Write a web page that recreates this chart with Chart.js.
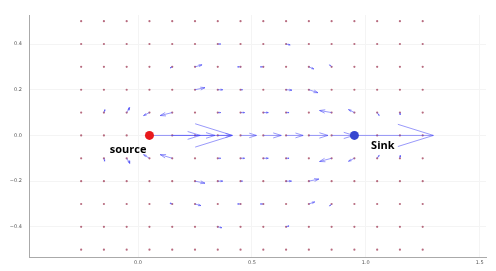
<!DOCTYPE html>
<html>
<head>
<meta charset="utf-8">
<script src="https://cdn.jsdelivr.net/npm/chart.js@4"></script>
<style>
  html, body { margin: 0; padding: 0; background: #fff; }
  #wrap { width: 496px; height: 271px; }
</style>
</head>
<body>
<div id="wrap"><canvas id="chart"></canvas></div>
<script>
// grid of sample points
var gridX = [-0.25, -0.15, -0.05, 0.05, 0.15, 0.25, 0.35, 0.45, 0.55, 0.65, 0.75, 0.85, 0.95, 1.05, 1.15, 1.25];
var gridY = [0.5, 0.4, 0.3, 0.2, 0.1, 0.0, -0.1, -0.2, -0.3, -0.4, -0.5];

// non-zero field vectors (tail x, tail y, u, v)
var quiverX = [
  0.35, 0.65,                                                     // y = 0.4
  0.15, 0.25, 0.45, 0.55, 0.75, 0.85,                             // y = 0.3
  0.25, 0.35, 0.45, 0.65, 0.75,                                   // y = 0.2
  -0.15, -0.05, 0.05, 0.15, 0.35, 0.45, 0.55, 0.65, 0.85, 0.95, 1.05, 1.15, // y = 0.1
  0.05, 0.15, 0.25, 0.35, 0.45, 0.55, 0.65, 0.75, 0.85, 0.95,     // y = 0
  -0.15, -0.05, 0.05, 0.15, 0.35, 0.45, 0.55, 0.65, 0.85, 0.95, 1.05, 1.15, // y = -0.1
  0.25, 0.35, 0.45, 0.65, 0.75,                                   // y = -0.2
  0.15, 0.25, 0.45, 0.55, 0.75, 0.85,                             // y = -0.3
  0.35, 0.65                                                      // y = -0.4
];
var quiverY = [
  0.4, 0.4,
  0.3, 0.3, 0.3, 0.3, 0.3, 0.3,
  0.2, 0.2, 0.2, 0.2, 0.2,
  0.1, 0.1, 0.1, 0.1, 0.1, 0.1, 0.1, 0.1, 0.1, 0.1, 0.1, 0.1,
  0, 0, 0, 0, 0, 0, 0, 0, 0, 0,
  -0.1, -0.1, -0.1, -0.1, -0.1, -0.1, -0.1, -0.1, -0.1, -0.1, -0.1, -0.1,
  -0.2, -0.2, -0.2, -0.2, -0.2,
  -0.3, -0.3, -0.3, -0.3, -0.3, -0.3,
  -0.4, -0.4
];
var quiverU = [
  0.013, 0.018,
  -0.009, 0.031, -0.013, -0.013, 0.022, -0.009,
  0.044, 0.022, 0.009, 0.026, 0.040,
  0.004, 0.013, -0.026, -0.053, 0.013, 0.018, 0.022, 0.013, -0.053, -0.026, 0.009, 0.001,
  0.365, 0.123, 0.088, 0.062, 0.070, 0.079, 0.075, 0.084, 0.097, 0.347,
  0.004, 0.013, -0.026, -0.053, 0.013, 0.018, 0.022, 0.013, -0.053, -0.026, 0.009, 0.001,
  0.044, 0.022, 0.009, 0.024, 0.044,
  -0.009, 0.026, -0.013, -0.013, 0.026, -0.009,
  0.018, 0.013
];
var quiverV = [
  0, -0.004,
  -0.004, 0.009, 0, 0, -0.009, 0.009,
  0.009, 0, 0, -0.002, -0.013,
  0.013, 0.022, -0.013, -0.013, 0, 0, 0, 0, 0.009, 0.013, -0.013, -0.009,
  0, 0, 0, 0, 0, 0, 0, 0, 0, 0,
  -0.013, -0.022, 0.016, 0.016, 0, 0, 0, 0, -0.014, -0.013, 0.013, 0.012,
  -0.009, 0, 0, 0, 0.009,
  0.004, -0.007, 0, 0, 0.009, -0.009,
  -0.004, 0.004
];

// source and sink
var sourceX = [0.05], sourceY = [0.0];
var sinkX = [0.95], sinkY = [0.0];

// annotations
var noteText = ['source', 'Sink'];
var noteX = [-0.044, 1.075];
var noteY = [-0.061, -0.046];

// axis ticks
var xTicks = [0.0, 0.5, 1.0, 1.5];
var xTickLabels = ['0.0', '0.5', '1.0', '1.5'];
var yTicks = [-0.4, -0.2, 0.0, 0.2, 0.4];
var yTickLabels = ['\u22120.4', '\u22120.2', '0.0', '0.2', '0.4'];

var GAP = { x: NaN, y: NaN };

// shaft + head segments for every vector, head scales with length
var arrowPoints = [];
for (var k = 0; k < quiverX.length; k++) {
  var x0 = quiverX[k], y0 = quiverY[k], u = quiverU[k], v = quiverV[k];
  var len = Math.sqrt(u * u + v * v);
  if (!len) continue;
  var x1 = x0 + u, y1 = y0 + v;
  var ux = u / len, uy = v / len;
  var hl = 0.45 * len, hw = 0.14 * len;
  var bx = x1 - ux * hl, by = y1 - uy * hl;
  arrowPoints.push({ x: x0, y: y0 }, { x: x1, y: y1 }, GAP,
    { x: bx - uy * hw, y: by + ux * hw }, { x: x1, y: y1 }, { x: bx + uy * hw, y: by - ux * hw }, GAP);
}

var gridPoints = [];
gridY.forEach(function (y) {
  gridX.forEach(function (x) { gridPoints.push({ x: x, y: y }); });
});

function pts(xs, ys) {
  return xs.map(function (x, i) { return { x: x, y: ys[i] }; });
}

var notesPlugin = {
  id: 'notes',
  afterDatasetsDraw: function (chart) {
    var ctx = chart.ctx, sx = chart.scales.x, sy = chart.scales.y;
    ctx.save();
    ctx.font = 'bold 11px "Open Sans"';
    ctx.fillStyle = '#000';
    ctx.textAlign = 'center';
    ctx.textBaseline = 'middle';
    noteText.forEach(function (t, i) {
      ctx.fillText(t, sx.getPixelForValue(noteX[i]), sy.getPixelForValue(noteY[i]));
    });
    ctx.restore();
  }
};

var tickFont = { family: 'DejaVu Sans', size: 5 };

new Chart(document.getElementById('chart').getContext('2d'), {
  type: 'scatter',
  data: {
    datasets: [
      { data: pts(sourceX, sourceY), pointRadius: 4.5, pointBackgroundColor: '#e8191c', pointBorderWidth: 0 },
      { data: pts(sinkX, sinkY), pointRadius: 4.5, pointBackgroundColor: '#3646d0', pointBorderWidth: 0 },
      { data: arrowPoints, showLine: true, spanGaps: false, pointRadius: 0, pointHitRadius: 0,
        borderColor: 'rgba(70, 70, 245, 0.55)', borderWidth: 1, tension: 0 },
      { data: gridPoints, pointRadius: 1.1, pointBackgroundColor: 'rgba(165, 70, 95, 0.8)', pointBorderWidth: 0 }
    ]
  },
  options: {
    responsive: true,
    maintainAspectRatio: false,
    animation: false,
    events: [],
    layout: { padding: { top: 15, right: 10, left: 0, bottom: 0 } },
    plugins: { legend: { display: false }, tooltip: { enabled: false } },
    scales: {
      x: {
        type: 'linear', min: -0.479, max: 1.528,
        afterBuildTicks: function (s) { s.ticks = xTicks.map(function (v) { return { value: v }; }); },
        afterFit: function (s) { s.height = 14; },
        ticks: { autoSkip: false, maxRotation: 0, padding: 3, color: '#555', font: tickFont,
          callback: function (v, i) { return xTickLabels[i]; } },
        grid: { color: '#f4f4f4', drawTicks: false },
        border: { color: '#aaa', width: 1 }
      },
      y: {
        type: 'linear', min: -0.532, max: 0.527,
        afterBuildTicks: function (s) { s.ticks = yTicks.map(function (v) { return { value: v }; }); },
        afterFit: function (s) { s.width = 29; },
        ticks: { autoSkip: false, padding: 7, color: '#555', font: tickFont,
          callback: function (v, i) { return yTickLabels[i]; } },
        grid: { color: '#f4f4f4', drawTicks: false },
        border: { color: '#aaa', width: 1 }
      }
    }
  },
  plugins: [notesPlugin]
});
</script>
</body>
</html>
